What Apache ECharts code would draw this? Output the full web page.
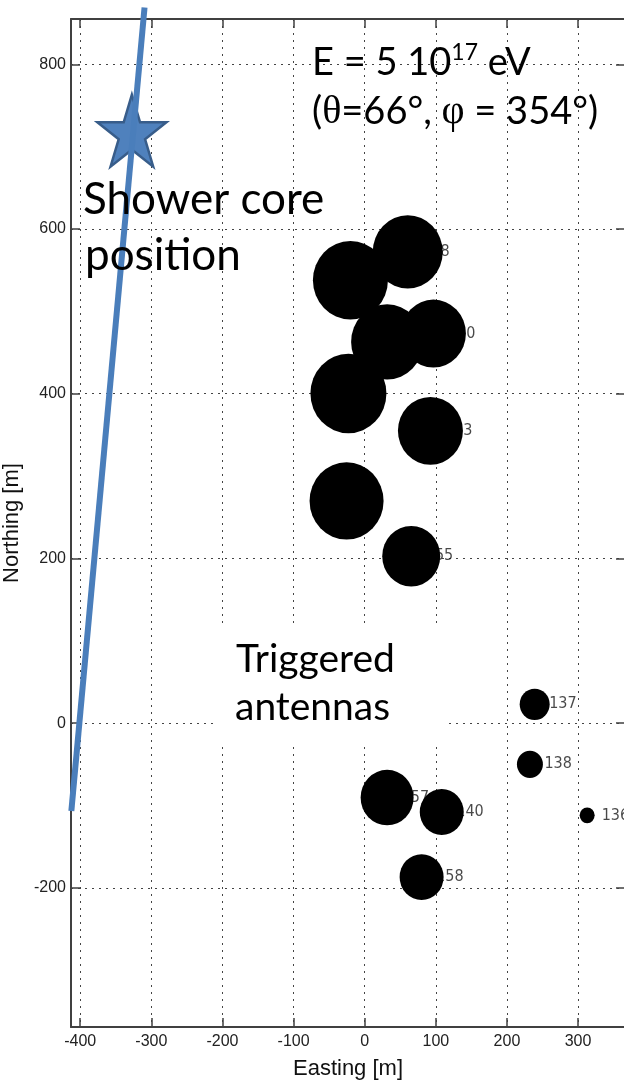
<!DOCTYPE html>
<html>
<head>
<meta charset="utf-8">
<script src="https://cdn.jsdelivr.net/npm/echarts@6/dist/echarts.min.js"></script>
<style>
html,body{margin:0;padding:0;background:#fff;}
#chart{width:624px;height:1081px;}
</style>
</head>
<body>
<div id="chart"></div>
<script>
// ---- data ----
const eastings  = [60.5, -20.1, 31.5, 96.6, -22.9, 92.4, -25.5, 65.4, 31.5, 108.3, 80, 239, 232.3, 312.8];
const northings = [572.2, 537.8, 462.9, 473.1, 400.3, 354.9, 269.8, 202.7, -90.4, -108, -187, 22.8, -50, -112];
const amplitude = [70, 75, 72, 65, 76, 65, 74, 58, 53, 44, 44, 30, 26, 15];
const antennaIds = ['148', '', '', '150', '', '153', '', '155', '157', '140', '158', '137', '138', '136'];
const coreEasting = [-327.4];
const coreNorthing = [719.4];
const axisEasting = [-309.6, -412.5];
const axisNorthing = [868.9, -106.8];
const xTicks = [-400, -300, -200, -100, 0, 100, 200, 300];
const yTicks = [-200, 0, 200, 400, 600, 800];

// ---- helpers ----
function starPath() {
  const pts = [];
  for (let k = 0; k < 10; k++) {
    const a = (-90 + k * 36) * Math.PI / 180;
    const r = k % 2 === 0 ? 1 : 0.382;
    pts.push((r * Math.cos(a)).toFixed(4) + ' ' + (r * Math.sin(a)).toFixed(4));
  }
  return 'path://M' + pts.join(' L') + ' Z';
}

const antennaData = eastings.map((x, i) => [x, northings[i], amplitude[i]]);
const labelData = eastings.map((x, i) => [x, northings[i], antennaIds[i]]);
const coreData = coreEasting.map((x, i) => [x, coreNorthing[i]]);
const axisData = axisEasting.map((x, i) => [x, axisNorthing[i]]);

const AX = '#404040';
const tickFont = {fontFamily: 'Liberation Sans', fontSize: 16, color: '#222'};
const slideFont = 'Lato';

const chart = echarts.init(document.getElementById('chart'), null, {renderer: 'canvas'});
const option = {
  animation: false,
  backgroundColor: '#fff',
  grid: {left: 71, top: 19, width: 554, height: 1008, containLabel: false, outerBoundsMode: 'none'},
  xAxis: [
    {
      type: 'value', min: -413, max: 366, minInterval: 100, maxInterval: 100, position: 'bottom',
      axisLine: {show: true, onZero: false, lineStyle: {color: AX, width: 2}},
      axisTick: {show: true, inside: true, length: 9, lineStyle: {color: AX, width: 1.5}},
      axisLabel: Object.assign({showMinLabel: false, showMaxLabel: false, margin: 7,
        formatter: v => xTicks.includes(v) ? String(v) : ''}, tickFont),
      splitLine: {show: true, lineStyle: {type: [2, 5], color: '#444', width: 1}},
      name: 'Easting [m]', nameLocation: 'middle', nameGap: 31,
      nameTextStyle: {fontFamily: 'Liberation Sans', fontSize: 22, color: '#111'}
    },
    {
      type: 'value', min: -413, max: 366, minInterval: 100, maxInterval: 100, position: 'top',
      axisLine: {show: true, onZero: false, lineStyle: {color: AX, width: 2}},
      axisTick: {show: true, inside: true, length: 9, lineStyle: {color: AX, width: 1.5}},
      axisLabel: {show: false}, splitLine: {show: false}
    }
  ],
  yAxis: [
    {
      type: 'value', min: -369, max: 855, minInterval: 200, maxInterval: 200, position: 'left',
      axisLine: {show: true, onZero: false, lineStyle: {color: AX, width: 2}},
      axisTick: {show: true, inside: true, length: 9, lineStyle: {color: AX, width: 1.5}},
      axisLabel: Object.assign({showMinLabel: false, showMaxLabel: false, margin: 5,
        formatter: v => yTicks.includes(v) ? String(v) : ''}, tickFont),
      splitLine: {show: true, lineStyle: {type: [2, 5], color: '#444', width: 1}},
      name: 'Northing [m]', nameLocation: 'middle', nameGap: 37,
      nameTextStyle: {fontFamily: 'Liberation Sans', fontSize: 22, color: '#111'}
    },
    {
      type: 'value', min: -369, max: 855, minInterval: 200, maxInterval: 200, position: 'right',
      axisLine: {show: true, onZero: false, lineStyle: {color: AX, width: 2}},
      axisTick: {show: true, inside: true, length: 9, lineStyle: {color: AX, width: 1.5}},
      axisLabel: {show: false}, splitLine: {show: false}
    }
  ],
  series: [
    {
      type: 'scatter', name: 'ids', z: 2, data: labelData,
      symbolSize: 1, itemStyle: {color: 'rgba(0,0,0,0)'},
      label: {show: true, position: 'right', distance: 14,
        formatter: p => p.value[2],
        fontFamily: "'DejaVu Sans Condensed', 'Liberation Sans', sans-serif", fontSize: 16, color: '#1a1a1a'},
      silent: true
    },
    {
      type: 'scatter', name: 'antennas', z: 3, data: antennaData,
      symbol: 'circle',
      symbolSize: v => [v[2], v[2] * 1.045],
      itemStyle: {color: '#000', opacity: 1}
    },
    {
      type: 'scatter', name: 'core', z: 3, data: coreData,
      symbol: starPath(), symbolSize: [69, 72],
      itemStyle: {color: '#4f81bd', borderColor: '#385d8a', borderWidth: 2.5, opacity: 1}
    },
    {
      type: 'line', name: 'shower axis', z: 4, data: axisData, clip: false,
      symbol: 'none', lineStyle: {color: '#4a7ebb', width: 6}
    }
  ],
  graphic: [
    {type: 'rect', z: 1, shape: {x: 213, y: 624, width: 233, height: 118}, style: {fill: '#fff'}},
    {type: 'text', z: 10, x: 312, y: 63, style: {
      text: '{m|E = 5 10}{s|17}{m| eV}', verticalAlign: 'middle', fill: '#000',
      rich: {m: {fontFamily: slideFont, fontSize: 38, lineHeight: 44, fill: '#000'},
             s: {fontFamily: slideFont, fontSize: 23, verticalAlign: 'top', fill: '#000'}}}},
    {type: 'text', z: 10, x: 312, y: 112, style: {
      text: '{m|(}{g|θ}{m|=66°, }{g|φ}{m| = 354°)}', verticalAlign: 'middle', fill: '#000',
      rich: {m: {fontFamily: slideFont, fontSize: 38, fill: '#000'},
             g: {fontFamily: 'Liberation Serif', fontSize: 40, fill: '#000'}}}},
    {type: 'text', z: 10, x: 83, y: 200, style: {text: 'Shower core', verticalAlign: 'middle',
      font: '44px ' + slideFont, fill: '#000'}},
    {type: 'text', z: 10, x: 85, y: 256, style: {text: 'position', verticalAlign: 'middle',
      font: '44px ' + slideFont, fill: '#000'}},
    {type: 'text', z: 10, x: 236, y: 659, style: {text: 'Triggered', verticalAlign: 'middle',
      font: '39px ' + slideFont, fill: '#000'}},
    {type: 'text', z: 10, x: 235, y: 707, style: {text: 'antennas', verticalAlign: 'middle',
      font: '39px ' + slideFont, fill: '#000'}}
  ]
};
chart.setOption(option);
</script>
</body>
</html>
